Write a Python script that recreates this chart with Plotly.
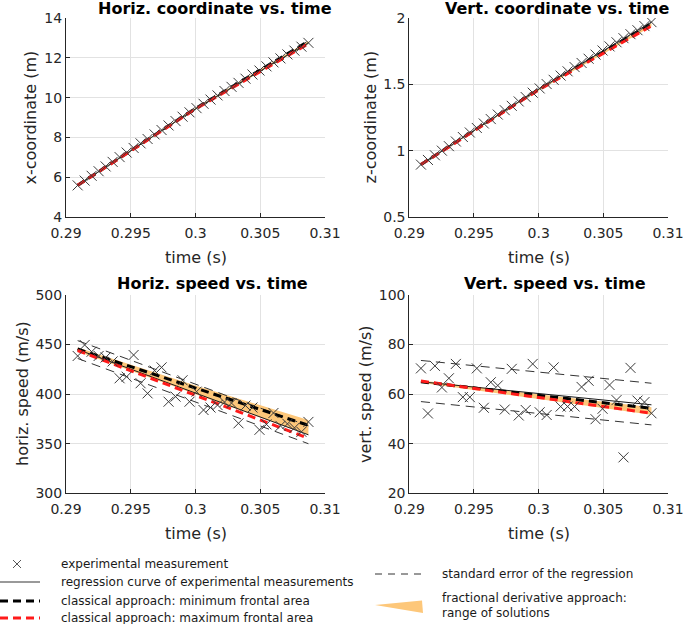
import plotly.graph_objects as go

# ---------------- data ----------------
time_s = [0.29090, 0.29144, 0.29198, 0.29252, 0.29306, 0.29360, 0.29414, 0.29468,
          0.29522, 0.29576, 0.29630, 0.29684, 0.29738, 0.29792, 0.29846, 0.29900,
          0.29954, 0.30008, 0.30062, 0.30116, 0.30170, 0.30224, 0.30278, 0.30332,
          0.30386, 0.30440, 0.30494, 0.30548, 0.30602, 0.30656, 0.30710, 0.30764,
          0.30818, 0.30872]

x_coord = [5.59, 5.83, 6.07, 6.30, 6.54, 6.77, 7.01, 7.24, 7.47, 7.70, 7.92, 8.15,
           8.37, 8.60, 8.82, 9.04, 9.26, 9.47, 9.69, 9.90, 10.11, 10.33, 10.54, 10.74,
           10.95, 11.16, 11.36, 11.57, 11.77, 11.97, 12.17, 12.36, 12.56, 12.75]

z_coord = [0.895, 0.930, 0.965, 1.000, 1.034, 1.069, 1.103, 1.137, 1.171, 1.205,
           1.238, 1.272, 1.305, 1.338, 1.371, 1.404, 1.437, 1.469, 1.502, 1.534,
           1.566, 1.598, 1.630, 1.661, 1.693, 1.724, 1.755, 1.786, 1.817, 1.848,
           1.878, 1.908, 1.939, 1.969]

horiz_speed = [438.5, 449.6, 442.8, 438.5, 437.0, 433.0, 416.0, 417.6, 439.5, 411.0,
               400.8, 423.7, 427.0, 392.4, 397.5, 414.0, 392.4, 402.5, 384.0, 386.5,
               389.0, 392.0, 391.0, 370.6, 388.5, 386.5, 364.0, 369.5, 381.0, 368.0,
               370.0, 366.0, 362.0, 372.0]

vert_speed = [70.4, 52.2, 71.4, 62.7, 66.4, 72.2, 58.8, 58.8, 70.4, 54.5, 64.8, 63.5,
              53.8, 70.2, 51.4, 53.6, 72.2, 52.7, 51.6, 70.8, 55.0, 55.0, 55.0, 62.9,
              65.4, 49.9, 54.1, 63.7, 57.6, 34.5, 70.6, 57.4, 56.8, 52.3]

# model curves (start, middle, end of the measured interval)
t_model = [0.29090, 0.29981, 0.30872]

x_regression = [5.59, 9.36, 12.75]
x_min_area = [5.59, 9.38, 12.83]
x_max_area = [5.59, 9.35, 12.71]
x_frac_upper = [5.61, 9.40, 12.85]
x_frac_lower = [5.57, 9.33, 12.69]

z_regression = [0.895, 1.453, 1.969]
z_min_area = [0.895, 1.450, 1.957]
z_max_area = [0.895, 1.447, 1.940]
z_frac_upper = [0.898, 1.453, 1.960]
z_frac_lower = [0.892, 1.443, 1.936]

vx_regression = [445.0, 402.0, 359.0]
vx_se_upper = [454.0, 411.0, 368.0]
vx_se_lower = [436.0, 393.0, 350.0]
vx_min_area = [445.5, 407.0, 368.5]
vx_max_area = [444.0, 400.0, 355.5]
vx_frac_upper = [447.0, 409.5, 374.0]
vx_frac_lower = [443.0, 401.0, 359.0]

vz_regression = [65.0, 60.3, 55.7]
vz_se_upper = [73.6, 69.0, 64.4]
vz_se_lower = [57.0, 52.3, 47.6]
vz_min_area = [65.0, 59.6, 54.3]
vz_max_area = [65.3, 58.8, 52.3]
vz_frac_upper = [65.5, 60.0, 54.7]
vz_frac_lower = [64.6, 58.3, 51.7]

x_ticks = [0.29, 0.295, 0.3, 0.305, 0.31]
x_tick_labels = ["0.29", "0.295", "0.3", "0.305", "0.31"]
y1_ticks = [4, 6, 8, 10, 12, 14]
y2_ticks = [0.5, 1, 1.5, 2]
y2_tick_labels = ["0.5", "1", "1.5", "2"]
y3_ticks = [300, 350, 400, 450, 500]
y4_ticks = [20, 40, 60, 80, 100]

titles = ["Horiz. coordinate vs. time", "Vert. coordinate vs. time",
          "Horiz. speed vs. time", "Vert. speed vs. time"]
y_titles = ["x-coordinate (m)", "z-coordinate (m)", "horiz. speed (m/s)", "vert. speed (m/s)"]

legend_labels = ["experimental measurement",
                 "regression curve of experimental measurements",
                 "classical approach: minimum frontal area",
                 "classical approach: maximum frontal area",
                 "standard error of the regression",
                 "fractional derivative approach:",
                 "range of solutions"]

# ---------------- style ----------------
W, H = 685, 624
FONT = "DejaVu Sans"
TXT = "#262626"
BAND = "rgb(253,199,122)"
RED = "#ff1a1a"
DASH_THICK = "8px,5px"
DASH_THIN = "9px,6px"


def P(xp):
    return xp / W


def Q(yp):
    return 1 - yp / H


fig = go.Figure()


def add_panel(k, pts, reg, mn, mx, bu, bl, seu=None, sel=None):
    xa = "x" if k == 1 else f"x{k}"
    ya = "y" if k == 1 else f"y{k}"
    fig.add_trace(go.Scatter(x=t_model + t_model[::-1], y=bu + bl[::-1], fill="toself",
                             fillcolor=BAND, line=dict(width=0), mode="lines",
                             xaxis=xa, yaxis=ya, hoverinfo="skip"))
    if seu is not None:
        for s in (seu, sel):
            fig.add_trace(go.Scatter(x=t_model, y=s, mode="lines",
                                     line=dict(color="#333333", width=1, dash=DASH_THIN),
                                     xaxis=xa, yaxis=ya))
    fig.add_trace(go.Scatter(x=t_model, y=reg, mode="lines",
                             line=dict(color="#1a1a1a", width=1), xaxis=xa, yaxis=ya))
    fig.add_trace(go.Scatter(x=t_model, y=mn, mode="lines",
                             line=dict(color="#000000", width=3, dash=DASH_THICK),
                             xaxis=xa, yaxis=ya))
    fig.add_trace(go.Scatter(x=t_model, y=mx, mode="lines",
                             line=dict(color=RED, width=3, dash=DASH_THICK),
                             xaxis=xa, yaxis=ya))
    fig.add_trace(go.Scatter(x=time_s, y=pts, mode="markers",
                             marker=dict(symbol="x-thin", size=10,
                                         line=dict(color="#3a3a3a", width=1)),
                             xaxis=xa, yaxis=ya))


add_panel(1, x_coord, x_regression, x_min_area, x_max_area, x_frac_upper, x_frac_lower)
add_panel(2, z_coord, z_regression, z_min_area, z_max_area, z_frac_upper, z_frac_lower)
add_panel(3, horiz_speed, vx_regression, vx_min_area, vx_max_area, vx_frac_upper,
          vx_frac_lower, vx_se_upper, vx_se_lower)
add_panel(4, vert_speed, vz_regression, vz_min_area, vz_max_area, vz_frac_upper,
          vz_frac_lower, vz_se_upper, vz_se_lower)

axis_common = dict(showline=True, linecolor=TXT, linewidth=1, mirror=False,
                   ticks="inside", ticklen=4, tickwidth=1, tickcolor=TXT,
                   showgrid=True, gridcolor="#e2e2e2", gridwidth=1, zeroline=False,
                   automargin=False,
                   tickfont=dict(family=FONT, size=14, color=TXT))

left_dom = [P(66), P(325)]
right_dom = [P(409.3), P(668)]
top_dom = [Q(217), Q(18)]
bot_dom = [Q(493.3), Q(295)]

layout = dict(width=W, height=H, margin=dict(l=0, r=0, t=0, b=0, autoexpand=False),
              paper_bgcolor="white", plot_bgcolor="white", showlegend=False,
              font=dict(family=FONT, color=TXT))

doms = [(left_dom, top_dom), (right_dom, top_dom), (left_dom, bot_dom), (right_dom, bot_dom)]
yinfo = [(y1_ticks, [str(v) for v in y1_ticks], [4, 14]),
         (y2_ticks, y2_tick_labels, [0.5, 2]),
         (y3_ticks, [str(v) for v in y3_ticks], [300, 500]),
         (y4_ticks, [str(v) for v in y4_ticks], [20, 100])]

for k in range(1, 5):
    xd, yd = doms[k - 1]
    sx = "" if k == 1 else str(k)
    layout[f"xaxis{sx}"] = dict(axis_common, domain=xd, anchor=f"y{sx}", range=[0.29, 0.31],
                                tickvals=x_ticks, ticktext=x_tick_labels,
                                ticklabelstandoff=3)
    tv, tt, rg = yinfo[k - 1]
    layout[f"yaxis{sx}"] = dict(axis_common, domain=yd, anchor=f"x{sx}", range=rg,
                                tickvals=tv, ticktext=tt)

fig.update_layout(**layout)

ann = []
# subplot titles
title_pos = [(215, 9), (557, 9), (212, 284), (555, 284)]
for t, (cx, cy) in zip(titles, title_pos):
    ann.append(dict(text=f"<b>{t}</b>", x=P(cx), y=Q(cy), xref="paper", yref="paper",
                    showarrow=False, xanchor="center", yanchor="middle",
                    font=dict(family=FONT, size=16, color="#000000")))
# x-axis titles
for cx, cy in [(195.5, 257), (538.6, 257), (195.5, 533), (538.6, 533)]:
    ann.append(dict(text="time (s)", x=P(cx), y=Q(cy), xref="paper", yref="paper",
                    showarrow=False, xanchor="center", yanchor="middle",
                    font=dict(family=FONT, size=16, color=TXT)))
# y-axis titles
for t, (cx, cy) in zip(y_titles, [(30, 117.5), (370, 117.5), (22, 394), (365, 394)]):
    ann.append(dict(text=t, x=P(cx), y=Q(cy), xref="paper", yref="paper", textangle=-90,
                    showarrow=False, xanchor="center", yanchor="middle",
                    font=dict(family=FONT, size=16, color=TXT)))
# legend texts
leg_pos = [(59, 564), (59, 582), (59, 601), (59, 618), (440, 574), (440, 598), (440, 613)]
for t, (lx, ly) in zip(legend_labels, leg_pos):
    ann.append(dict(text=t, x=P(lx), y=Q(ly), xref="paper", yref="paper",
                    showarrow=False, xanchor="left", yanchor="middle",
                    font=dict(family=FONT, size=12, color="#1a1a1a")))
fig.update_layout(annotations=ann)

shapes = []


def seg(x0, y0, x1, y1, color, width, dash="solid"):
    shapes.append(dict(type="line", xref="paper", yref="paper", x0=P(x0), y0=Q(y0),
                       x1=P(x1), y1=Q(y1), line=dict(color=color, width=width, dash=dash)))


# legend glyphs
seg(13, 560, 21, 568, "#555555", 1)
seg(13, 568, 21, 560, "#555555", 1)
seg(0, 582, 40, 582, "#777777", 1.5)
seg(0, 601, 40, 601, "#000000", 3, DASH_THICK)
seg(0, 618, 40, 618, RED, 3, DASH_THICK)
seg(375, 574, 421, 574, "#333333", 1, "7px,6px")
shapes.append(dict(type="path", xref="paper", yref="paper",
                   path=f"M {P(375)} {Q(605)} L {P(422)} {Q(600.5)} L {P(423)} {Q(613)} Z",
                   fillcolor=BAND, line=dict(width=0)))
fig.update_layout(shapes=shapes)

fig.write_html("out.html", config={"displayModeBar": False},
               post_script="document.body.style.margin='0px';document.body.style.overflow='hidden';")
